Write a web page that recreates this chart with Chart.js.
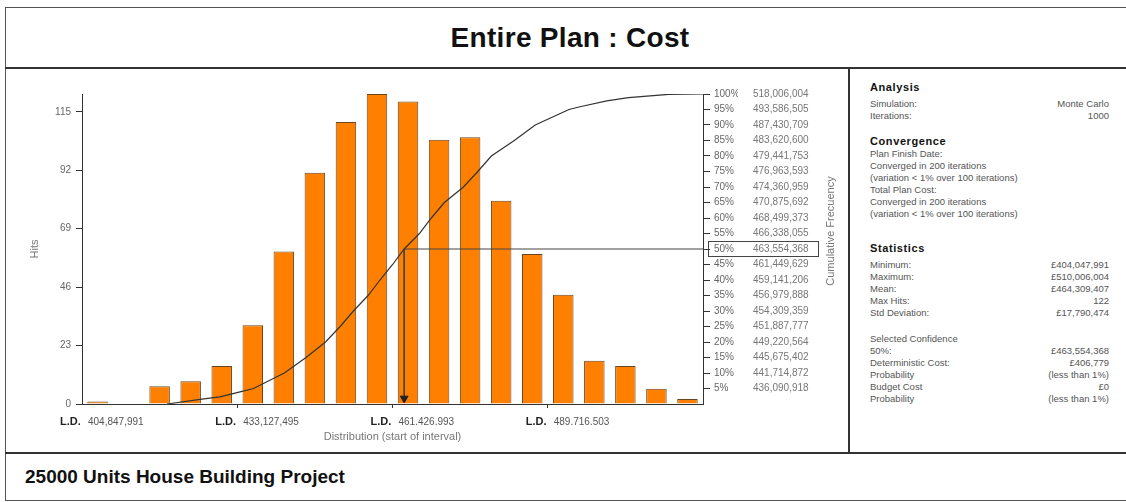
<!DOCTYPE html>
<html>
<head>
<meta charset="utf-8">
<script src="https://cdn.jsdelivr.net/npm/chart.js@4.4.0/dist/chart.umd.min.js"></script>
<style>
  body { margin: 0; background: #fff; overflow: hidden; font-family: "Liberation Sans", Arial, sans-serif; }
  .ln { position: absolute; background: #333; }
  .box { position: absolute; left: 5px; top: 7px; width: 1130px; height: 492px; border: 1px solid #555; }
  .title { position: absolute; left: 5px; width: 1130px; top: 22px; text-align: center; font: bold 28px "Liberation Sans", Arial, sans-serif; letter-spacing: 0.3px; color: #111; }
  .foot { position: absolute; left: 25px; top: 466px; font: bold 19px "Liberation Sans", Arial, sans-serif; color: #111; }
  #chart { position: absolute; left: 7px; top: 70px; }
  .panel { position: absolute; left: 870px; width: 239px; font-size: 9.5px; color: #555; line-height: 12px; }
  .panel h4 { margin: 0; font-size: 11px; color: #111; letter-spacing: 0.6px; line-height: 14px; }
  .row { display: flex; justify-content: space-between; }
</style>
</head>
<body>
<div class="box"></div>
<div class="ln" style="left:5px; top:67px; width:1126px; height:2px;"></div>
<div class="ln" style="left:5px; top:452px; width:1126px; height:2px;"></div>
<div class="ln" style="left:848px; top:68px; width:2px; height:385px;"></div>
<div class="title">Entire Plan : Cost</div>
<div class="foot">25000 Units House Building Project</div>
<canvas id="chart" width="841" height="382"></canvas>

<div class="panel" style="top:80px;"><h4>Analysis</h4></div>
<div class="panel" style="top:98px;">
  <div class="row"><span>Simulation:</span><span>Monte Carlo</span></div>
  <div class="row"><span>Iterations:</span><span>1000</span></div>
</div>
<div class="panel" style="top:134px;"><h4>Convergence</h4></div>
<div class="panel" style="top:148px;">
  <div>Plan Finish Date:</div>
  <div>Converged in 200 iterations</div>
  <div>(variation &lt; 1% over 100 iterations)</div>
  <div>Total Plan Cost:</div>
  <div>Converged in 200 iterations</div>
  <div>(variation &lt; 1% over 100 iterations)</div>
</div>
<div class="panel" style="top:241px;"><h4>Statistics</h4></div>
<div class="panel" style="top:259px;">
  <div class="row"><span>Minimum:</span><span>£404,047,991</span></div>
  <div class="row"><span>Maximum:</span><span>£510,006,004</span></div>
  <div class="row"><span>Mean:</span><span>£464,309,407</span></div>
  <div class="row"><span>Max Hits:</span><span>122</span></div>
  <div class="row"><span>Std Deviation:</span><span>£17,790,474</span></div>
</div>
<div class="panel" style="top:333px;">
  <div>Selected Confidence</div>
  <div class="row"><span>50%:</span><span>£463,554,368</span></div>
  <div class="row"><span>Deterministic Cost:</span><span>£406,779</span></div>
  <div class="row"><span>Probability</span><span>(less than 1%)</span></div>
  <div class="row"><span>Budget Cost</span><span>£0</span></div>
  <div class="row"><span>Probability</span><span>(less than 1%)</span></div>
</div>

<script>
// histogram bins (20 intervals) and hits per bin
let bins = ['1','2','3','4','5','6','7','8','9','10','11','12','13','14','15','16','17','18','19','20'];
let hits = [1,0,7,9,15,31,60,91,111,122,119,104,105,80,59,43,17,15,6,2];
let hitTicks = [0,23,46,69,92,115];
let hitMax = 122;

// bottom labels, at the start of these bins
let ldBins = [0,5,10,15];
let ldLabels = ['404,847,991','433,127,495','461.426.993','489.716.503'];
let costMin = 404847991;
let costMax = 518006004;

// cumulative frequency axis
let pctTicks = [5,10,15,20,25,30,35,40,45,50,55,60,65,70,75,80,85,90,95,100];
let pctCosts = [436090918,441714872,445675402,449220564,451887777,454309359,456979888,459141206,461449629,463554368,
                466338055,468499373,470875692,474360959,476963593,479441753,483620600,487430709,493586505,518006004];

// cumulative curve (cost, %)
let cumCost = [420350000,426350000,429970000,433650000].concat(pctCosts.slice(0,19), [495600000,500470000,504430000,511780000,518006004]);
let cumPct = [0,1.5,2.3,3.9].concat(pctTicks.slice(0,19), [95.9,97.8,98.8,99.9,100]);

let selPct = 50;
let selCost = 463554368;

Chart.defaults.font.family = '"Liberation Sans", Arial, sans-serif';

let extras = {
  id: 'extras',
  afterDraw(chart) {
    let c = chart.ctx;
    let x = chart.scales.x, yp = chart.scales.yPct, yv = chart.scales.yVal;
    let half = (x.getPixelForValue(1) - x.getPixelForValue(0)) / 2;
    c.save();
    c.textBaseline = 'middle';
    c.textAlign = 'left';
    ldBins.forEach(function(b, i) {
      let px = x.getPixelForValue(b) - half;
      c.fillStyle = '#222';
      c.font = 'bold 11px "Liberation Sans", Arial, sans-serif';
      c.fillText('L.D.', px - 22, x.top + 18);
      c.fillStyle = '#555';
      c.font = '10px "Liberation Sans", Arial, sans-serif';
      c.fillText(ldLabels[i], px + 6, x.top + 18);
    });
    // box round the selected confidence
    let sy = yp.getPixelForValue(selPct);
    c.strokeStyle = '#444';
    c.lineWidth = 1;
    c.strokeRect(yp.left + 5.5, sy - 7.5, yv.left + 80 - yp.left - 5, 15);
    // right axis title, bottom to top
    c.translate(yv.right - 17, (yv.top + yv.bottom) / 2 - 18);
    c.rotate(-Math.PI / 2);
    c.textAlign = 'center';
    c.fillStyle = '#777';
    c.font = '11px "Liberation Sans", Arial, sans-serif';
    c.fillText('Cumulative Frecuency', 0, 0);
    c.restore();
  }
};

let ctx = document.getElementById('chart').getContext('2d');
let chart = new Chart(ctx, {
  type: 'bar',
  data: {
    labels: bins,
    datasets: [
      {
        type: 'line',
        data: cumCost.map((v, i) => ({x: v, y: cumPct[i]})),
        xAxisID: 'x2',
        yAxisID: 'yPct',
        borderColor: '#333',
        borderWidth: 1.2,
        pointRadius: 0,
        order: 0
      },
      {
        type: 'line',
        data: [{x: costMax, y: selPct}, {x: selCost, y: selPct}, {x: selCost, y: 1.8}],
        xAxisID: 'x2',
        yAxisID: 'yPct',
        borderColor: '#444',
        borderWidth: 1,
        pointRadius: [0, 0, 4.5],
        pointStyle: 'triangle',
        pointRotation: 180,
        pointBackgroundColor: '#222',
        pointBorderColor: '#222',
        order: 0
      },
      {
        data: hits,
        xAxisID: 'x',
        yAxisID: 'y',
        backgroundColor: '#FF8000',
        borderColor: '#6b4420',
        borderWidth: 1,
        grouped: false,
        barPercentage: 0.66,
        categoryPercentage: 1,
        order: 1
      }
    ]
  },
  options: {
    responsive: false,
    animation: false,
    devicePixelRatio: 1,
    layout: { padding: { left: 15, top: 24, right: 0, bottom: 0 } },
    plugins: { legend: { display: false }, tooltip: { enabled: false } },
    scales: {
      x: {
        type: 'category',
        offset: true,
        grid: {
          offset: true,
          drawOnChartArea: false,
          tickLength: 4,
          color: c => ldBins.includes(c.index) && c.index > 0 ? '#333' : 'rgba(0,0,0,0)'
        },
        border: { color: '#333', width: 1 },
        ticks: { display: false },
        title: { display: true, text: 'Distribution (start of interval)', color: '#777', font: { size: 11 }, padding: { top: 0, bottom: 8 } },
        afterFit: s => { s.height = 48; }
      },
      x2: { type: 'linear', display: false, offset: false, grid: { offset: false }, min: costMin, max: costMax },
      y: {
        position: 'left',
        min: 0,
        max: hitMax,
        afterBuildTicks: s => { s.ticks = hitTicks.map(v => ({value: v})); },
        grid: { drawOnChartArea: false, tickLength: 6, color: '#333' },
        border: { color: '#333', width: 1 },
        ticks: { color: '#666', font: { size: 10 }, padding: 5 },
        title: { display: true, text: 'Hits', color: '#777', font: { size: 11 }, padding: { top: 6, bottom: 0 } },
        afterFit: s => { s.width = 60; }
      },
      yPct: {
        position: 'right',
        weight: 0,
        min: 0,
        max: 100,
        afterBuildTicks: s => { s.ticks = pctTicks.map(v => ({value: v})); },
        grid: { drawOnChartArea: false, tickLength: 7, color: '#333' },
        border: { color: '#333', width: 1 },
        ticks: { color: '#666', font: { size: 10 }, padding: 4, callback: v => v + '%' },
        afterFit: s => { s.width = 35; }
      },
      yVal: {
        position: 'right',
        weight: 1,
        min: 0,
        max: 100,
        afterBuildTicks: s => { s.ticks = pctTicks.map(v => ({value: v})); },
        grid: { display: false, drawTicks: false },
        border: { display: false },
        ticks: { color: '#777', font: { size: 10 }, padding: 15,
                 callback: v => pctCosts[pctTicks.indexOf(v)].toLocaleString('en-US') },
        afterFit: s => { s.width = 110; }
      }
    }
  },
  plugins: [extras]
});
</script>
</body>
</html>
